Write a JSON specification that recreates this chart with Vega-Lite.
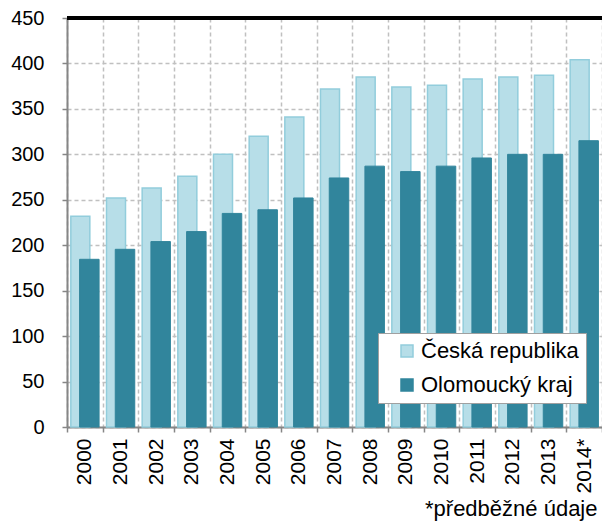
{
  "$schema": "https://vega.github.io/schema/vega-lite/v6.json",
  "width": 535,
  "height": 409,
  "autosize": {"type": "none"},
  "padding": {"left": 67, "top": 18, "right": 0, "bottom": 95},
  "background": "white",
  "data": {
    "values": [
      {"rok": "2000", "rada": "Česká republika", "hodnota": 232},
      {"rok": "2001", "rada": "Česká republika", "hodnota": 252},
      {"rok": "2002", "rada": "Česká republika", "hodnota": 263},
      {"rok": "2003", "rada": "Česká republika", "hodnota": 276},
      {"rok": "2004", "rada": "Česká republika", "hodnota": 300},
      {"rok": "2005", "rada": "Česká republika", "hodnota": 320},
      {"rok": "2006", "rada": "Česká republika", "hodnota": 341},
      {"rok": "2007", "rada": "Česká republika", "hodnota": 372},
      {"rok": "2008", "rada": "Česká republika", "hodnota": 385},
      {"rok": "2009", "rada": "Česká republika", "hodnota": 374},
      {"rok": "2010", "rada": "Česká republika", "hodnota": 376},
      {"rok": "2011", "rada": "Česká republika", "hodnota": 383},
      {"rok": "2012", "rada": "Česká republika", "hodnota": 385},
      {"rok": "2013", "rada": "Česká republika", "hodnota": 387},
      {"rok": "2014*", "rada": "Česká republika", "hodnota": 404},
      {"rok": "2000", "rada": "Olomoucký kraj", "hodnota": 184.5},
      {"rok": "2001", "rada": "Olomoucký kraj", "hodnota": 195.5},
      {"rok": "2002", "rada": "Olomoucký kraj", "hodnota": 204},
      {"rok": "2003", "rada": "Olomoucký kraj", "hodnota": 215},
      {"rok": "2004", "rada": "Olomoucký kraj", "hodnota": 235},
      {"rok": "2005", "rada": "Olomoucký kraj", "hodnota": 239},
      {"rok": "2006", "rada": "Olomoucký kraj", "hodnota": 252},
      {"rok": "2007", "rada": "Olomoucký kraj", "hodnota": 274},
      {"rok": "2008", "rada": "Olomoucký kraj", "hodnota": 287},
      {"rok": "2009", "rada": "Olomoucký kraj", "hodnota": 281},
      {"rok": "2010", "rada": "Olomoucký kraj", "hodnota": 287},
      {"rok": "2011", "rada": "Olomoucký kraj", "hodnota": 296},
      {"rok": "2012", "rada": "Olomoucký kraj", "hodnota": 300},
      {"rok": "2013", "rada": "Olomoucký kraj", "hodnota": 300},
      {"rok": "2014*", "rada": "Olomoucký kraj", "hodnota": 315}
    ]
  },
  "layer": [
    {
      "transform": [{"filter": "datum.rada === 'Česká republika'"}],
      "mark": {"type": "bar", "width": 19, "xOffset": -4.5, "strokeWidth": 1.5},
      "encoding": {
        "x": {
          "field": "rok",
          "type": "nominal",
          "sort": null,
          "scale": {"type": "band", "paddingInner": 0, "paddingOuter": 0},
          "axis": {
            "title": "*předběžné údaje",
            "titleFontSize": 22,
            "titleFontWeight": "normal",
            "titleFont": "Liberation Sans",
            "titleColor": "black",
            "titleAnchor": "end",
            "titleAlign": "right",
            "titleBaseline": "alphabetic",
            "titleX": 530,
            "titleY": 88,
            "labelAngle": -90,
            "labelFontSize": 21,
            "labelFont": "Liberation Sans",
            "labelColor": "black",
            "labelPadding": 6,
            "tickBand": "extent",
            "tickSize": 5,
            "tickColor": "#868686",
            "tickWidth": 1.5,
            "domainColor": "#868686",
            "domainWidth": 2,
            "grid": true,
            "gridColor": "#C0C0C0",
            "gridDash": [4, 3],
            "gridWidth": 1.5
          }
        },
        "y": {
          "field": "hodnota",
          "type": "quantitative",
          "scale": {"domain": [0, 450], "nice": false},
          "axis": {
            "title": null,
            "values": [0, 50, 100, 150, 200, 250, 300, 350, 400, 450],
            "labelFontSize": 20,
            "labelFont": "Liberation Sans",
            "labelColor": "black",
            "labelPadding": 18,
            "tickSize": 5,
            "tickColor": "#868686",
            "tickWidth": 1.5,
            "domainColor": "#868686",
            "domainWidth": 2,
            "grid": true,
            "gridColor": "#C0C0C0",
            "gridDash": [4, 3],
            "gridWidth": 1.5
          }
        },
        "fill": {
          "field": "rada",
          "type": "nominal",
          "scale": {"domain": ["Česká republika", "Olomoucký kraj"], "range": ["#B7DEE8", "#31859C"]},
          "legend": {
            "title": null,
            "orient": "none",
            "legendX": 311,
            "legendY": 315,
            "padding": 7,
            "strokeColor": "#A0A0A0",
            "fillColor": "white",
            "symbolType": "square",
            "symbolSize": 144,
            "symbolOffset": 11,
            "symbolStrokeWidth": 1.5,
            "labelFontSize": 22,
            "labelFont": "Liberation Sans",
            "labelColor": "black",
            "labelOffset": 3,
            "rowPadding": 12
          }
        },
        "stroke": {
          "field": "rada",
          "type": "nominal",
          "scale": {"domain": ["Česká republika", "Olomoucký kraj"], "range": ["#92CDDC", "#31859C"]},
          "legend": {
            "title": null,
            "orient": "none",
            "legendX": 311,
            "legendY": 315,
            "padding": 7,
            "strokeColor": "#A0A0A0",
            "fillColor": "white",
            "symbolType": "square",
            "symbolSize": 144,
            "symbolOffset": 11,
            "symbolStrokeWidth": 1.5,
            "labelFontSize": 22,
            "labelFont": "Liberation Sans",
            "labelColor": "black",
            "labelOffset": 3,
            "rowPadding": 12
          }
        }
      }
    },
    {
      "transform": [{"filter": "datum.rada === 'Olomoucký kraj'"}],
      "mark": {"type": "bar", "width": 19.5, "xOffset": 4.5, "strokeWidth": 1},
      "encoding": {
        "x": {"field": "rok", "type": "nominal", "sort": null},
        "y": {"field": "hodnota", "type": "quantitative"},
        "fill": {"field": "rada", "type": "nominal"},
        "stroke": {"field": "rada", "type": "nominal"}
      }
    },
    {
      "mark": {"type": "rule", "color": "black", "strokeWidth": 2.5},
      "encoding": {"y": {"datum": 450}}
    }
  ],
  "config": {
    "view": {"stroke": null},
    "font": "Liberation Sans"
  }
}
